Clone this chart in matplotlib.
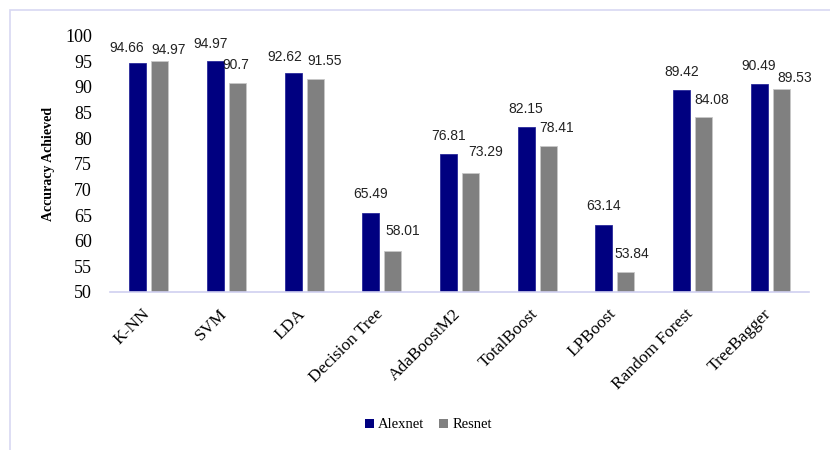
import matplotlib
matplotlib.use("Agg")
import matplotlib.pyplot as plt
from matplotlib.patches import Rectangle, Patch
from matplotlib.transforms import ScaledTranslation
import numpy as np

# Data
classifiers = ["K-NN", "SVM", "LDA", "Decision Tree", "AdaBoostM2",
               "TotalBoost", "LPBoost", "Random Forest", "TreeBagger"]
alexnet = [94.66, 94.97, 92.62, 65.49, 76.81, 82.15, 63.14, 89.42, 90.49]
resnet = [94.97, 90.7, 91.55, 58.01, 73.29, 78.41, 53.84, 84.08, 89.53]
yticks = [50, 55, 60, 65, 70, 75, 80, 85, 90, 95, 100]

# Label nudges (pixels) so value labels do not collide
alex_dx = [-11, -4.5, -8.5, 0, 0, 0, 0, 0, 0]
alex_dy = [14.7, 17.7, 16, 18.3, 18.3, 18.4, 18.6, 18, 18.3]
res_dx = [9, -1.6, 9, 10, 15.5, 8.7, 6, 8.3, 13.3]
res_dy = [11.3, 18, 17.6, 19.7, 20.4, 18, 18, 17.6, 11.4]

W, H, DPI = 830, 450, 100
fig = plt.figure(figsize=(W / DPI, H / DPI), dpi=DPI)

# Chart-area border
fig.patches.append(Rectangle((10 / W, -0.05), 1.2, (H - 10) / H + 0.05,
                             transform=fig.transFigure, fill=False,
                             edgecolor="#d8d8f2", linewidth=1.2))

left, right = 110 / W, 809 / W
bottom, top = (H - 292) / H, (H - 35.5) / H
ax = fig.add_axes([left, bottom, right - left, top - bottom])

x = np.arange(len(classifiers))
bw = 0.22
off = 0.143
ax.bar(x - off, alexnet, bw, color="#000080",
       edgecolor="#2a2a9a", linewidth=0.6, label="Alexnet", zorder=2)
ax.bar(x + off, resnet, bw, color="#808080",
       edgecolor="#c8c8c8", linewidth=0.6, label="Resnet", zorder=2)

ax.set_ylim(50, 100)
ax.set_xlim(-0.5, len(classifiers) - 0.5)
ax.set_yticks(yticks)
ax.set_yticklabels([str(v) for v in yticks], fontfamily="Liberation Serif",
                   fontsize=13)
ax.tick_params(axis="y", length=0, pad=13)
ax.set_xticks(x)
ax.set_xticklabels(classifiers, rotation=45, ha="right", va="top",
                   rotation_mode="anchor", fontfamily="Liberation Serif",
                   fontsize=12.5)
ax.tick_params(axis="x", length=0, pad=10)
shift = ScaledTranslation(-7 / DPI, 0, fig.dpi_scale_trans)
for lbl in ax.get_xticklabels():
    lbl.set_transform(lbl.get_transform() + shift)

for s in ("top", "right", "left"):
    ax.spines[s].set_visible(False)
ax.spines["bottom"].set_color("#d0d0f0")
ax.spines["bottom"].set_linewidth(1.2)
ax.spines["bottom"].set_zorder(3)

ax.set_ylabel("Accuracy Achieved", fontfamily="Liberation Serif",
              fontweight="bold", fontsize=10)
ax.yaxis.set_label_coords((55 - 110) / (809 - 110), 0.5)

for i in range(len(classifiers)):
    ax.annotate(f"{alexnet[i]:g}", (x[i] - off, alexnet[i]),
                xytext=(alex_dx[i], alex_dy[i]), textcoords="offset pixels",
                ha="center", va="center", fontsize=10,
                fontfamily="Liberation Sans", color="#222222")
    ax.annotate(f"{resnet[i]:g}", (x[i] + off, resnet[i]),
                xytext=(res_dx[i], res_dy[i]), textcoords="offset pixels",
                ha="center", va="center", fontsize=10,
                fontfamily="Liberation Sans", color="#222222")

handles = [Patch(facecolor="#000080"), Patch(facecolor="#808080")]
fig.legend(handles, ["Alexnet", "Resnet"], loc="center",
           bbox_to_anchor=(428.5 / W, 1 - 425 / H), ncol=2, frameon=False,
           prop={"family": "Liberation Serif", "size": 10.5},
           handlelength=0.6, handleheight=0.6, handletextpad=0.3,
           columnspacing=1.0)

fig.savefig("out.png", dpi=DPI)
